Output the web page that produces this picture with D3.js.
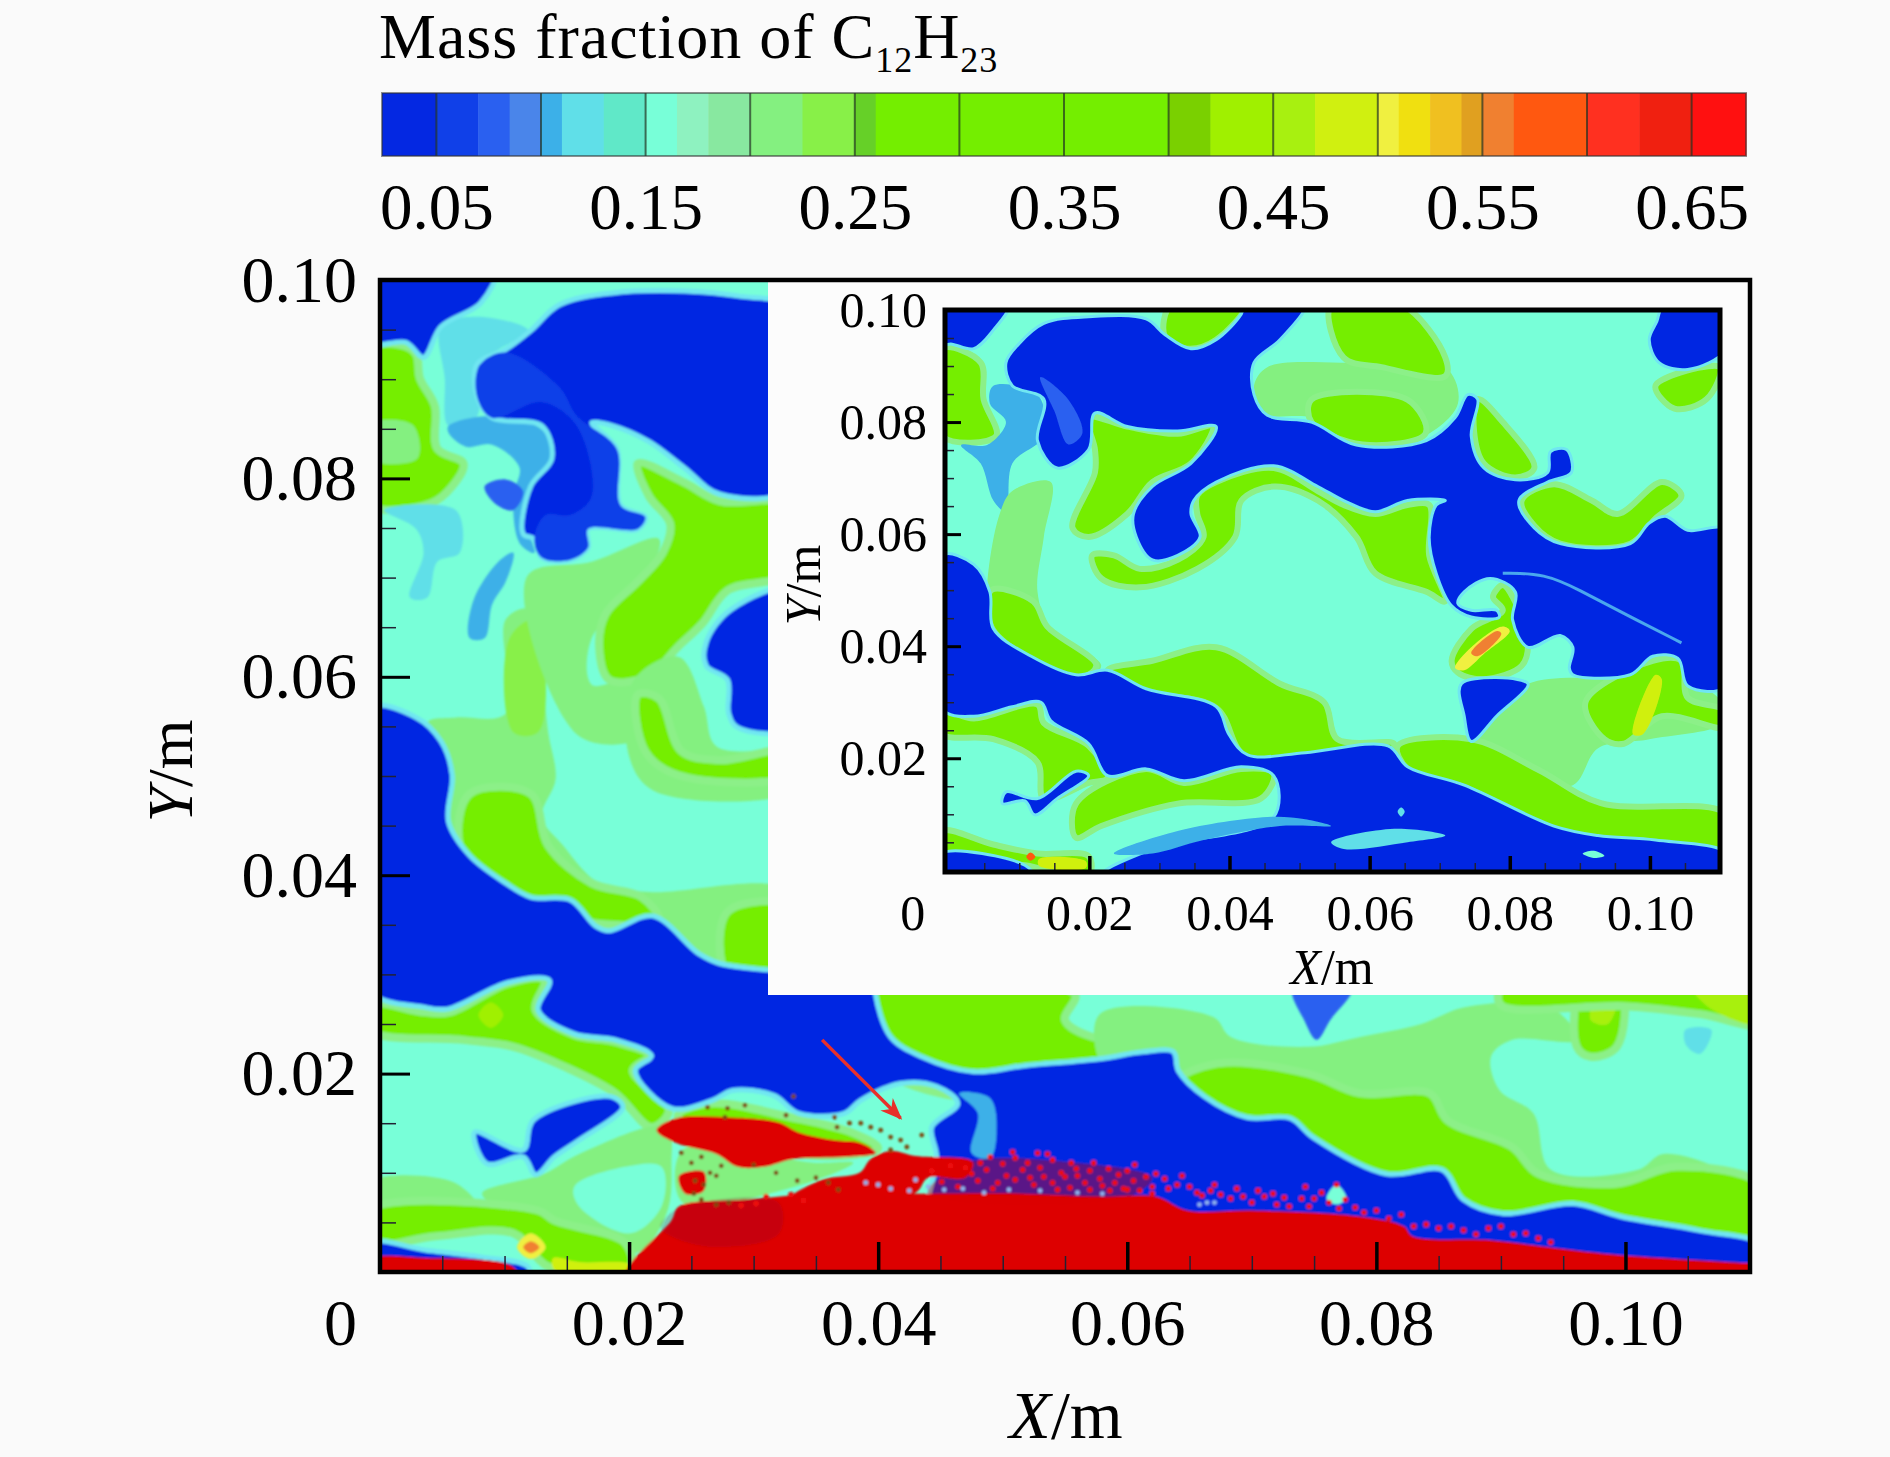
<!DOCTYPE html>
<html>
<head>
<meta charset="utf-8">
<script src="https://cdn.jsdelivr.net/npm/d3@7"></script>
<style>
html, body { margin: 0; padding: 0; background: #fafafa; }
svg { display: block; }
text { font-family: "Liberation Serif", serif; fill: #000; }
</style>
</head>
<body>
<div id="chart"></div>
<script>
// legend bands (mass fraction)
var barStops = [0.024,0.05,0.07,0.085,0.1,0.11,0.13,0.15,0.165,0.18,0.2,0.225,0.25,0.26,0.4,0.42,0.45,0.47,0.5,0.51,0.525,0.54,0.55,0.565,0.6,0.625,0.65,0.676];
var barColors = ["#0428e2","#1040e8","#2a60f0","#4a85ea","#3cb0e8","#60dfe8","#60e8c8","#78ffd8","#8ef2c0","#88e8a0","#84f080","#88f048","#66d028","#74ee00","#7ad000","#a0f000","#a8f010","#d0f010","#f0f040","#f0e010","#f0c020","#e0a020","#f08030","#ff5810","#ff3020","#f02010","#ff1010"];
var fieldRed = "#dd0000";
var barTicks = [0.05,0.1,0.15,0.2,0.25,0.3,0.35,0.4,0.45,0.5,0.55,0.6,0.65];
var barLabels = [0.05,0.15,0.25,0.35,0.45,0.55,0.65];

// axis ticks, X and Y in mm
var xMajor = [0,20,40,60,80,100];
var yMajor = [20,40,60,80,100];
var minorTicks = [5,10,15,25,30,35,45,50,55,65,70,75,85,90,95,105];

// main plot contours, [X mm, Y mm]
var mTopBlue = [[7.8,91.5],[10.1,93],[12.1,94.9],[14.4,97.5],[18.7,98.7],[24.4,98.9],[28.7,98.4],[33,97],[33,79.1],[27.3,78.4],[24.4,81.1],[21.6,83.7],[18.7,85.3],[17,85.6],[19,83],[19.3,77.3],[21.3,76.1],[20.7,74.9],[16.7,74.9],[16.7,73],[15.3,71.8],[13,72],[12.4,73.9],[11.5,74.4],[12.1,79.2],[13.8,82],[13,85.3],[9,86.1],[7.8,88.2]];
var mCornerBlue = [[-1,101],[9.2,101],[8.1,97.7],[4.9,95.3],[3.5,92.2],[2.1,93.7],[-1,93.7]];
var mTopMid = [[8,91.4],[10.1,92.7],[14.4,89.2],[15.8,86.3],[19,83],[19.3,77.3],[21.3,76.1],[20.7,74.9],[16.7,74.9],[16.7,73],[15.3,71.8],[13,72],[12.4,73.9],[13.3,76.3],[15.3,76.3],[17,78.2],[15.8,85.3],[13,87.7],[9,86.1],[7.8,88.2]];
var mPatch1 = [[5.5,85.3],[9,86.3],[13,84.9],[14.1,82],[12.4,79.2],[11.8,75.4],[12.4,72.5],[11.2,73.5],[10.7,78.2],[11.2,81.1],[9,83.4],[6.9,83.2],[5.5,84.6]];
var mPatch2 = [[8.4,79.2],[10.1,79.9],[11.5,78.7],[10.7,76.8],[9.2,77.5]];
var mPatch3 = [[0.3,76.8],[6.1,76.8],[6.4,72.5],[4.6,71.6],[3.8,68],[2.4,68],[3.5,72.5],[2.9,74.9]];
var mPatch4 = [[7.5,67.7],[9.5,71.6],[10.7,72.5],[10.1,69.6],[9,67.3],[8.4,63.9],[7.2,63.9]];
var mCyan = [[4.9,95.3],[7.8,96.3],[11.9,94.9],[9.5,93],[7.8,91.5],[7.8,86.3],[5.5,85.3],[5.2,90.1]];
var mLeftGreen = [[-1,93],[1.8,93.4],[2.9,92.5],[3.2,90.1],[4.4,87.3],[4.6,83],[6.7,81.5],[5.8,79.2],[4.1,77.5],[-1,77.5]];
var mLeftPale = [[-1,85.4],[2.6,85.4],[3,82],[-1,82]];
var mCentreGreen = [[20.7,81.5],[24.4,79.6],[27.3,77.7],[33,77.3],[33,70.6],[27.9,68.7],[25.9,65.4],[23.9,63],[21.6,60.1],[18.4,59.7],[17.6,63],[18.1,66.3],[20.7,69.6],[22.7,72.5],[23.3,75.4],[21.6,78.2]];
var mCentrePale = [[11.8,70.1],[17,71.6],[22.4,73.9],[21,69.2],[17,63.9],[17,59.2],[20.4,59.7],[21,54],[16,54]];
var mBandPale = [[10.1,65.8],[12.1,66.8],[13,60.1],[13.5,54.4],[14.1,49.7],[13,45.9],[14.7,43],[17.6,39.2],[21.6,38.3],[33,38.3],[33,29],[5.5,38],[4.9,51.6],[3.8,55.4],[6.1,55.9],[10.1,56.3]];
var mBandGreen = [[7.2,48.2],[12.1,48.2],[13.5,43],[17,39.2],[21,37.8],[22.4,35.4],[15.8,35.4],[9,38.2],[6.4,43]];
var mBandGreen2 = [[27.9,36.3],[33,36.8],[33,30],[27.9,30]];
var mMidGreen = [[10.4,63.9],[12.4,65.8],[13.3,60.1],[12.7,54.4],[10.7,54.4]];
var mArcPale = [[20.4,59.7],[24,62],[26,57],[27,53],[33,52],[33,48.5],[22,48.5],[20,52]];
var mArcGreen = [[20.7,58.2],[22.4,57.8],[24.2,52.5],[27.3,51.6],[33,52.5],[33,50.1],[23.9,50.1],[21.3,52.5]];
var mNotchBlue = [[33,68.7],[28.2,66.8],[26.2,63.5],[26.2,61.1],[27.9,59.7],[28,56.3],[28.7,54.9],[33,54.9]];
var mBandBlue = [[-1,56.8],[2.9,55.9],[4.9,53.5],[5.8,50.1],[5.5,45.4],[7.2,42],[10.1,39.2],[12.1,37.8],[15.3,37.5],[17.3,34.9],[18.4,34.4],[21.9,35.9],[25.6,32.1],[27.3,31.1],[33,30.2],[39.8,29],[39.8,27.9],[41,23.7],[43.5,21.7],[47.6,20.2],[51.7,20.8],[57.8,21.5],[61.3,22.2],[63.7,22.2],[64.1,20.3],[66.2,17.7],[69.6,15.6],[73.1,15.5],[74.9,13.6],[80.8,9.9],[85.3,10.3],[87,7.3],[90.2,5.9],[95.8,6.9],[99.6,5.6],[105.9,4.2],[111,2.6],[111,-1],[44,-1],[44.7,11.6],[44.3,14.6],[46.4,17],[44.7,18.7],[41.8,19],[38.6,17.3],[37.3,16],[33.6,16],[31.6,17.8],[28.3,18.3],[26.7,17.3],[23.4,16.5],[20.5,20.3],[21.8,21.8],[18.9,23.4],[15.6,24],[12.7,26.4],[13.6,29.4],[10.3,29.2],[5.4,26.5],[3.5,26.7],[-1,28.6]];
var mGapHalo = [[46.5,18],[48,16],[47.5,12],[49,11.5],[49.5,14],[49,17.5]];
var mLowGreen = [[-1,27],[3.5,26.2],[5.6,26.2],[10.3,29.1],[13.2,29.4],[12.5,26.4],[15.6,23.9],[18.9,23.2],[21.6,21.8],[20.3,20.3],[23.2,16.3],[21.8,14.6],[18.9,18],[14.8,20.7],[10.7,22.7],[6.6,23.4],[-1,24.4]];
var mLowPale = [[8.2,7.9],[13.2,9.9],[16,11.9],[23,14.6],[23.4,10.9],[23,5.9],[20.5,1.9],[13.2,5.9],[10.7,5.9]];
var mLowAqua = [[15.6,8.6],[19.7,10.6],[22.6,10.6],[22.6,6.6],[20.1,3.9],[16,6.6]];
var mFootPale = [[-1,9],[6,9],[8,6],[-1,6]];
var mFootGreen = [[-1,6.2],[12.7,6.2],[14,5.2],[19.7,2.9],[20.1,0.5],[13.6,0.5],[10.7,3.9],[4.5,3.6],[-1,2.9]];
var mSBlue = [[7.6,14.1],[11.5,12.3],[12.3,15.3],[18.5,17.7],[19.5,16.6],[16,13.3],[14,11.6],[12.5,9.8],[11.5,11.6],[8.6,10.9]];
var mFootBlue = [[-1,2.9],[3.7,2.2],[8.2,1.5],[11.9,0.5],[11.9,-1],[-1,-1]];
var mFootRed = [[-1,1.2],[3.7,1.4],[10.7,0.5],[11,-1],[-1,-1]];
var mHotYellow = [[11,2.5],[12.1,3.9],[13.3,2.5],[12.1,1.3]];
var mHotOrange = [[11.5,2.5],[12.1,3.1],[12.8,2.5],[12.1,1.9]];
var mHotStrip = [[13.9,1.4],[16,1],[20,0.8],[20,0.2],[14,0.2]];
var mHotTop = [[7.9,25.9],[8.9,27.2],[9.9,25.9],[8.9,24.6]];
var mPlumeGreen = [[24,16],[26.7,17],[33,15.6],[38,14],[40,12.5],[38,11.8],[33,12],[24,15.4]];
var mPlumePale = [[24.3,12.3],[35,11],[38,11],[33,8.5],[24.3,7]];
var mGreenTop = [[39,28],[55.8,28],[55,25.4],[57.8,23.5],[64,23.5],[64,19],[45,18],[39,22]];
var mPaleRight = [[57.8,26],[66.9,25.7],[68.3,23.7],[74.5,22.7],[78.7,23.7],[83.6,25],[87.1,26.7],[94,26.7],[96.1,23.4],[90.9,23.4],[89.2,21.7],[89.9,18.3],[92.6,16],[94,10.3],[101,10.3],[103.1,11.9],[109.7,8.6],[111,3],[85,3],[60,18],[57.8,21]];
var mGreenRight = [[67.2,21],[74.5,20],[78.7,18],[84.3,18],[85.7,15.3],[90.9,12.6],[93,9.9],[99.3,8.9],[104.1,10.6],[111,8.6],[111,2],[90,3],[70,12],[64,19]];
var mColumnGreen = [[96.5,28.5],[99.6,28.5],[99.3,22.7],[97.2,21.7],[96.1,22.7]];
var mColumnYellow = [[97.9,28.5],[99.4,28.5],[98.6,25],[97.2,25.4]];
var mEdgeGreen = [[90,28.5],[111,28.5],[111,25],[106,26],[100,26.8],[90,26.9]];
var mEdgeYellow = [[105.5,28.5],[111,28.5],[111,25],[107,26.4]];
var mCyanRight = [[104.8,24.4],[106.9,24.4],[106,22],[104.9,22.8]];
var mBlueWedge = [[73.3,28.5],[78,28.5],[76.3,25.4],[75.2,23.4],[74.2,25.4]];
var mAquaSpot = [[63.5,9.5],[64.5,11],[66,10],[65,9]];
var mAquaSpot2 = [[76,7.4],[76.8,8.8],[77.6,7.4],[76.8,6.8]];

var mRedBody = [[19.7,-1],[23.4,5.2],[24,6.6],[29.5,7.3],[35.3,7.9],[43.5,7.9],[51.7,7.9],[57.8,7.6],[62.3,7.6],[64.8,6.2],[70,6.2],[78.7,5.6],[82.2,4.6],[82.9,3.6],[89.2,3.2],[95.8,2.2],[99.6,1.7],[109.7,0.9],[111,0.8],[111,-1]];
var mRedPlume = [[22.2,14.3],[23.8,15.5],[27.9,15.6],[32,15.1],[33.6,14.1],[36.5,13.3],[38.6,13],[39.8,12],[37.3,11.6],[33.2,11.4],[30.8,10.6],[28.7,10.6],[27,11.9],[23.8,13]];
var mRedMid = [[33,7.5],[35.5,9.3],[38.5,10],[39.4,11.4],[41,12.2],[43,11.7],[47.6,11.1],[47,9.5],[44,9.5],[43,8],[38,7.5]];
var mRedSmall = [[24,9.7],[26,10.1],[26,8.2],[24.5,7.9]];
var mRedMix = [[44,8],[60,7.6],[62,9.5],[56,11],[47,11]];
var mRedDark = [[24,6.4],[32,7],[32,3.8],[26,2.6],[22.5,4.5]];

var dropletsDark = [[26.3,16.6],[27.9,16.5],[29.3,16.8],[27.7,15.6],[32.6,15.8],[33.2,17.7],[36.5,15.6],[36.7,14.6],[37.7,15],[38.6,15],[39.4,14.6],[40.2,14.3],[41,13.6],[41.8,13.3],[43.5,13.8],[42.3,12.6],[41,12.3],[24.2,12],[25,11],[25.8,11.6],[26.5,10],[27,9.7],[27.4,10.7],[26,8.8],[25.3,9.2],[25.2,7.9],[25.8,7.3],[27,6.8],[28,7],[33.5,9.2],[35,9.5],[36,9],[36.8,8.3],[31.8,10],[30,10.8]];
var dropletsRed = [[29,6.7],[30.2,6.9],[31,7.6],[33,7.8],[34,7.2],[47,10.5],[48.2,11],[49,11.6],[50,10.9],[51,11.5],[52,11],[52.8,12],[53,10.5],[54,11.3],[54.7,10],[55.5,11],[56,9.7],[57,10.2],[57.8,9.4],[58.5,10.4],[59,9],[60,10.2],[60.5,9.2],[61.5,9.6],[62,8.6],[63,9.4],[64,8.8],[65,8.6],[65.6,8],[66.7,8.2],[67.5,7.8],[68.3,7.4],[69.3,7.6],[70,7],[71,7.6],[72,6.8],[71.7,7.9],[73,6.6],[74,7.4],[74.6,6.6],[75.6,8],[76.2,7],[76.8,8.8],[77.5,7.3],[78.3,6.5],[79,6],[48,9.2],[49.6,9],[51,9.3],[52.5,8.8],[54,9],[55.4,8.5],[57,8.3],[58.6,8.2],[60,8.3],[62,7.9],[83,4.6],[85,4.4],[87,4.2],[89,4.4],[91,3.8],[93,3.4],[44.3,10.2],[45.1,9.1],[45.8,10.7],[46.4,8.6],[47.5,9.9],[48.7,10.3],[49.2,8.4],[50.3,9.7],[50.8,12.1],[51.6,10.3],[52.2,9.5],[53.3,9.6],[53.6,11.9],[54.4,8.3],[55,9.6],[55.9,10.4],[56.6,9],[57.3,11],[58,8.7],[59.3,9.8],[59.7,8.4],[60.6,10.8],[61,8.2],[62.3,9.9],[63.3,8.4],[64.4,9.7],[66,7.7],[67,8.8],[68.8,8.4],[70.5,8.2],[72.6,7.5],[74.3,8.6],[75,7.4],[77,6.4],[80,6.2],[81,5.4],[82,5.8],[84,4.8],[86,4.6],[88,3.8],[90,4.6],[92,3.9],[94,3]];
var dropletsPale = [[39,9],[40,8.8],[41,8.4],[42.5,8.2],[44,8.6],[45.3,8.3],[46.8,8.4],[43,9.3],[48.5,8],[50.5,8.3],[53,8.2],[56,8],[58,7.9],[65.8,6.8],[66.4,7],[67,7]];
var arrowFrom = [35.5,23.4];
var arrowTo = [41.8,15.5];

var mainLayers = [
  [mBandPale,0.2],[mBandGreen,0.3],[mBandGreen2,0.3],[mMidGreen,0.24],[mCentrePale,0.2],[mCentreGreen,0.3],[mArcPale,0.2],[mArcGreen,0.3],
  [mCyan,0.12],[mLeftGreen,0.3],[mLeftPale,0.2],[mPatch3,0.12],[mPatch1,0.105],[mPatch2,0.08],[mPatch4,0.105],
  [mGreenTop,0.3],[mPaleRight,0.22],[mGreenRight,0.3],[mColumnGreen,0.3],[mColumnYellow,0.46],[mEdgeGreen,0.3],[mEdgeYellow,0.46],[mCyanRight,0.12],
  [mLowGreen,0.3],[mHotTop,0.44],[mLowPale,0.2],[mLowAqua,0.15],[mFootPale,0.2],[mFootGreen,0.3],[mHotStrip,0.47],[mHotYellow,0.5],[mHotOrange,0.56],
  [mPlumeGreen,0.3],[mPlumePale,0.22],[mAquaSpot,0.15],
  [mTopBlue,0.03],[mTopMid,0.06],[mCornerBlue,0.03],[mNotchBlue,0.03],[mBandBlue,0.03],[mGapHalo,0.105],[mSBlue,0.03],[mFootBlue,0.03],[mBlueWedge,0.075],[mAquaSpot2,0.15]
];
var mainReds = [mRedBody,mRedPlume,mRedMid,mRedSmall,mFootRed];

// inset contours, [X mm, Y mm]
var iBlueNet = [[9.9,93.9],[13.5,97.6],[19.9,98.8],[28.1,98.4],[30.8,95.6],[34.5,93.1],[38.1,94.7],[41.7,99.3],[42.2,101],[50.8,101],[47.2,94.7],[43.5,90.6],[43.5,84.9],[45.4,81.2],[51.7,80],[58.1,75.9],[68.1,76.7],[72.2,80.8],[74,84.9],[75.4,84.1],[74.5,77.5],[76.3,71.8],[80.8,69.7],[85.4,71],[85.8,74.7],[88.1,75.1],[88.8,71],[85.4,69.3],[81.3,66],[83.5,61.1],[87.2,58.3],[97.2,58.3],[99.9,62],[102.2,63.2],[105.4,60.7],[111,60.7],[111,32.9],[105.4,32.9],[104,37.8],[100.4,38.2],[97.2,34.9],[89,34.9],[88.5,36.1],[89,39.8],[87.2,41.9],[82.6,39.8],[80.4,44.7],[80.8,49.7],[77.2,52.1],[73.5,49.7],[72.6,47.6],[74.5,46.4],[78.1,46.4],[78.5,45.2],[74.5,45.2],[71.7,47.2],[69.5,53],[68.5,59.5],[69.5,65.2],[70.8,66],[65.4,66],[60.8,64],[56.3,66],[52.6,68.5],[46.3,72.2],[38.1,69.3],[34.9,66],[34.5,63.6],[35.8,59.5],[32.6,56.2],[29,55.4],[26.7,59.5],[26.3,63.6],[29,68.5],[34.5,72.6],[38.1,79.2],[32.6,78.4],[25.4,79.2],[20.8,81.6],[19.9,75.1],[15.4,71.8],[12.6,76.7],[13.5,84.1],[9,86.5],[8.1,90.6]];
var iBlueBand = [[-1,56.2],[3.5,54.6],[5.8,49.7],[6.3,43.1],[11.7,38.2],[18.1,34.9],[22.6,35.7],[28.1,32.4],[38.1,29.2],[39.9,24.3],[42.6,20.6],[50.8,21],[62.6,22.2],[65.4,18.5],[73.5,15.2],[86.3,7.9],[92.6,6.2],[100.8,5.4],[111,3],[111,-1],[21.7,-1],[29,3.8],[46.3,9.5],[46.3,16.9],[41.7,18.5],[33.5,16],[28.1,18.1],[22.6,16.9],[19.9,22.6],[14.5,26.7],[13.1,30],[9,29.2],[3.5,27.5],[-1,28.8]];
var iBlueCorner = [[-1,101],[8.5,101],[6.3,96.4],[3.5,93.1],[0.4,93.9],[-1,94]];
var iBlueRight = [[102,101],[111,101],[111,93.1],[105.4,89.4],[101.3,90.6],[99.9,94.7],[101,98]];
var iBlueWedge = [[73.1,33.3],[82.6,33.3],[78.1,27.5],[74.5,23],[73.5,27.5]];
var iBlueSmall = [[8.1,14],[12.6,12.8],[18.1,17.7],[19.9,16.9],[15.4,12.8],[12.2,9.9],[10.8,12.4],[7.6,11.9]];
var iBlueFoot = [[-1,3],[10.8,0.9],[12,-1],[-1,-1]];
var iBlueStreak = [[13,88],[17,84],[19,78],[17,76],[15,82]];
var iStreak1 = [[23.5,3],[32.6,7],[45.4,9.5],[50.8,9.1],[54.5,7.9],[47.2,7.9],[36.3,5.4],[29,3]];
var iStreak2 = [[54.5,5],[63.5,7.4],[70.8,6.2],[65.4,5],[56.3,3.8]];
var iSpot1 = [[90.4,3],[92,3.5],[93.5,2.6],[92,2.2]];
var iSpot2 = [[64,10.5],[64.5,11.2],[65,10.5],[64.5,9.6]];
var iGreen1 = [[31.7,101],[42.2,101],[38.1,94.7],[34,93.1],[30.8,95.2]];
var iGreen2 = [[54.5,101],[64.5,101],[70.8,91.5],[70.8,88.2],[61.7,89.8],[56.3,91.5]];
var iPale3 = [[45.4,89.8],[56.3,90.6],[70.8,89.8],[72.6,83.3],[67.2,77.1],[59,76.3],[51.7,80.8],[44.5,81.6],[43.5,86.5]];
var iGreen3 = [[51.7,84],[65.4,84],[68,78],[59,76],[51.7,80]];
var iGreen4 = [[75.4,84.1],[79,80],[83.5,71.8],[80.8,70.1],[76.3,72.6],[74.9,78.4]];
var iGreen5 = [[81.7,66],[86.3,68.9],[91.7,66],[95.4,63.6],[101.7,69.3],[104.5,66.9],[100.8,62.8],[97.2,58.3],[87.2,58.3],[83.5,61.5]];
var iGreen6 = [[100.8,86.5],[110,89.8],[108.1,84.1],[103.5,82.4]];
var iGreen7 = [[19.9,80.8],[25.4,79.2],[32.6,77.9],[37.6,79.2],[34.5,72.6],[29,69.3],[25.4,63.6],[19.9,59.5],[17.6,61.1],[20.8,71],[20.8,75.1]];
var iSwirl = [[35.4,66.9],[38.1,69.3],[46.3,71.8],[52.6,67.7],[56.3,65.2],[60.8,63.6],[65.4,65.2],[68.5,65.2],[68.5,56.2],[70.8,48],[68.1,49.7],[60.8,53],[58.1,59.5],[52.6,66],[46.3,68.5],[41.7,66],[40.8,59.5],[35.4,53.8],[27.2,50.5],[21.7,52.1],[20.4,56.2],[23.5,56.2],[27.2,53.8],[32.6,55.4],[36.3,59.5],[35.4,63.6]];
var iLeftBand = [[7.2,63.6],[9,67.7],[14.5,69.3],[13.5,59.5],[12.6,49.7],[14.5,43.1],[21.7,36.5],[19,34.1],[11.7,37.4],[5.8,43.9],[5.4,50.5]];
var iLeftBright = [[6,50],[12,48],[14,43.5],[21,36.6],[19,34.5],[11.7,37.6],[6,43.5]];
var iGreen10 = [[22.6,35.7],[29,37.4],[38.1,39.8],[47.2,33.3],[53.5,30],[55.4,23.4],[63.5,22.6],[62.6,21],[42.6,20],[38.1,29],[28.1,32]];
var iGreen11 = [[64,22.2],[74.5,23.4],[84,18],[93,12],[111,10],[111,2],[100.8,5],[92.6,5.8],[86.3,7.4],[73.5,14.8],[65.4,18.1]];
var iPale12 = [[75.4,23.4],[78.1,28.4],[82.6,33.3],[95.4,34.1],[109,31.6],[111,26.7],[99.9,23.4],[92.6,21.8],[89,15.2],[80.8,16]];
var iGreen13 = [[90.8,30],[100.4,37.4],[104.5,37.4],[105.4,30.8],[111,28.4],[111,25.5],[101.7,27.5],[96.3,22.6],[93.5,23.4]];
var iStreak3 = [[97.6,24.3],[100.8,34.9],[101.7,34.1],[99,24.3]];
var iHand = [[71.7,37.4],[74.5,43.1],[79,46.4],[77.6,48.8],[79,50.9],[80.4,48.8],[82.6,40.6],[81.7,36.5],[76.3,34.1],[72.6,35.3]];
var iHandYellow = [[72.2,36.1],[74.5,39.8],[79,43.5],[80,42.7],[76.3,38.6],[73.5,35.7]];
var iHandOrange = [[74.5,38.8],[78.2,42.7],[78.8,42.2],[75.4,38.2]];
var iGreen15 = [[-1,28.4],[3.5,27.1],[12.6,29.6],[13.5,26.3],[19.9,22.2],[22.6,16.5],[19.9,15.6],[13.5,12.8],[12.6,19.3],[6.3,23.4],[-1,24.3]];
var iGreen16 = [[18.1,11.9],[28.1,18.1],[33.5,15.6],[41.7,18.1],[46.3,17.3],[44.5,12.8],[32.6,11.9],[21.7,7.9],[18.1,5.8]];
var iGreen17 = [[-1,7],[6.3,4.6],[12.6,3],[19.9,2.5],[19.9,-1],[10.8,0.9],[-1,3]];
var iHotStrip = [[12.8,2],[19.5,1.6],[19.5,0.4],[12.8,0.8]];
var iHotDot = [[11,2.4],[11.6,3.2],[12.3,2.4],[11.6,1.7]];
var iGreenLeft = [[-1,93.1],[4.5,90.6],[4.9,84.1],[6.7,77.5],[-1,77.5]];
var iLightBlue = [[6.3,86.5],[12.6,84.9],[13.5,77.5],[9,72.6],[8.1,64],[6.3,66],[4.5,72.6],[1.7,75.9],[5.4,75.9],[8.1,80],[5.8,83.3]];
var iThread = [[79,53],[85,53],[90,50],[96,46],[104.5,40.6]];

var insetLayers = [
  [iGreenLeft,0.3],[iLightBlue,0.105],[iLeftBand,0.22],[iLeftBright,0.3],[iGreen1,0.3],[iPale3,0.2],[iGreen2,0.3],[iGreen3,0.3],[iGreen4,0.3],[iGreen5,0.3],[iGreen6,0.3],[iGreen7,0.3],[iSwirl,0.3],
  [iGreen10,0.3],[iPale12,0.2],[iGreen11,0.3],[iGreen13,0.3],[iStreak3,0.47],[iHand,0.3],[iHandYellow,0.5],[iHandOrange,0.56],
  [iGreen15,0.3],[iGreen16,0.3],[iGreen17,0.3],[iHotStrip,0.48],[iHotDot,0.57],
  [iBlueNet,0.03],[iBlueBand,0.03],[iBlueCorner,0.03],[iBlueRight,0.03],[iBlueWedge,0.03],[iBlueSmall,0.03],[iBlueFoot,0.03],[iBlueStreak,0.075],
  [iStreak1,0.105],[iStreak2,0.12],[iSpot1,0.15],[iSpot2,0.12]
];

var svg = d3.select("#chart").append("svg").attr("width", 1890).attr("height", 1457);
var defs = svg.append("defs");

var barColor = d3.scaleThreshold().domain(barStops.slice(1, -1)).range(barColors);

var contour = function(x, y) {
    return d3.line().x(d => x(d[0])).y(d => y(d[1])).curve(d3.curveCatmullRomClosed.alpha(0.5));
};

function addFilter(id, dev){
    defs.append("filter").attr("id", id)
        .attr("x", "-2%").attr("y", "-2%").attr("width", "104%").attr("height", "104%")
        .append("feGaussianBlur").attr("stdDeviation", dev);
}
addFilter("soft", 1.1);
addFilter("softInset", 0.7);

function drawField(id, x, y, layers, halo, filter){
    defs.append("clipPath").attr("id", id)
        .append("rect")
        .attr("x", x.range()[0]).attr("y", y.range()[1])
        .attr("width", x.range()[1] - x.range()[0])
        .attr("height", y.range()[0] - y.range()[1]);

    var outer = svg.append("g").attr("clip-path", "url(#" + id + ")");
    outer.append("rect")
        .attr("x", x.range()[0]).attr("y", y.range()[1])
        .attr("width", x.range()[1] - x.range()[0])
        .attr("height", y.range()[0] - y.range()[1])
        .attr("fill", barColor(0.155));

    var g = outer.append("g").attr("filter", "url(#" + filter + ")");
    var line = contour(x, y);

    g.selectAll("path.level")
        .data(layers)
        .enter().append("path")
        .attr("class", "level")
        .attr("d", d => line(d[0]))
        .attr("fill", d => barColor(d[1]))
        .attr("stroke", d => d[1] < 0.05 ? "#6fe6f2" : (d[1] === 0.3 ? "#8cf088" : "none"))
        .attr("stroke-width", d => d[1] < 0.05 ? halo : halo + 3);

    return { outer: outer, g: g, line: line };
}

function drawAxes(x, y, size, tickMajor, tickMinor, padX, padY, zeroShift){
    var fmt = d => d === 0 ? "0" : (d / 1000).toFixed(2);

    var gx = svg.append("g").attr("transform", "translate(0," + y.range()[0] + ")")
        .call(d3.axisBottom(x).tickValues(xMajor).tickFormat(fmt).tickSizeOuter(0).tickSizeInner(-tickMajor).tickPadding(padX));
    gx.select(".domain").remove();
    gx.selectAll("line").attr("stroke-width", 3.5);
    gx.selectAll("text").attr("font-size", size);
    gx.selectAll(".tick").filter(d => d === 0).select("line").remove();
    gx.selectAll(".tick").filter(d => d === 0).select("text").attr("x", -zeroShift);

    var gy = svg.append("g").attr("transform", "translate(" + x.range()[0] + ",0)")
        .call(d3.axisLeft(y).tickValues(yMajor).tickFormat(fmt).tickSizeOuter(0).tickSizeInner(-tickMajor).tickPadding(padY));
    gy.select(".domain").remove();
    gy.selectAll("line").attr("stroke-width", 3);
    gy.selectAll("text").attr("font-size", size);
    gy.selectAll(".tick").filter(d => d === 100).select("line").remove();

    var mx = svg.append("g").attr("transform", "translate(0," + y.range()[0] + ")")
        .call(d3.axisBottom(x).tickValues(minorTicks).tickFormat("").tickSizeOuter(0).tickSizeInner(-tickMinor));
    mx.select(".domain").remove();
    mx.selectAll("line").attr("stroke-width", 1.5).attr("stroke", "#223");

    var my = svg.append("g").attr("transform", "translate(" + x.range()[0] + ",0)")
        .call(d3.axisLeft(y).tickValues(minorTicks.filter(d => d < 100)).tickFormat("").tickSizeOuter(0).tickSizeInner(-tickMinor));
    my.select(".domain").remove();
    my.selectAll("line").attr("stroke-width", 1.5).attr("stroke", "#223");
}

function axisTitle(px, py, letter, size, rotate){
    var t = svg.append("text")
        .attr("text-anchor", "middle")
        .attr("font-size", size)
        .attr("transform", "translate(" + px + "," + py + ")" + (rotate ? " rotate(-90)" : ""));
    t.append("tspan").attr("font-style", "italic").text(letter);
    t.append("tspan").text("/m");
}

/*--------------- MAIN PLOT ---------------*/
var x = d3.scaleLinear().domain([0, 110]).range([380, 1750]);
var y = d3.scaleLinear().domain([0, 100]).range([1272, 280]);

var main = drawField("clipMain", x, y, mainLayers, 5, "soft");

main.g.selectAll("path.red")
    .data(mainReds)
    .enter().append("path")
    .attr("class", "red")
    .attr("d", d => main.line(d))
    .attr("fill", fieldRed);

main.g.append("path").attr("d", main.line(mRedMix)).attr("fill", fieldRed).attr("opacity", 0.4);
main.g.append("path").attr("d", main.line(mRedDark)).attr("fill", "#7a1030").attr("opacity", 0.22);

main.g.selectAll("circle.dark")
    .data(dropletsDark)
    .enter().append("circle")
    .attr("class", "dark")
    .attr("cx", d => x(d[0])).attr("cy", d => y(d[1])).attr("r", 2.4)
    .attr("fill", "#7d4a10");

main.g.selectAll("circle.drop")
    .data(dropletsRed)
    .enter().append("circle")
    .attr("class", "drop")
    .attr("cx", d => x(d[0])).attr("cy", d => y(d[1])).attr("r", 2.8)
    .attr("fill", "#ee1010");

main.g.selectAll("circle.hole")
    .data(dropletsPale)
    .enter().append("circle")
    .attr("class", "hole")
    .attr("cx", d => x(d[0])).attr("cy", d => y(d[1])).attr("r", 2.4)
    .attr("fill", "#8fb4ee");

// arrow
defs.append("marker").attr("id", "head")
    .attr("viewBox", "0 0 10 10").attr("refX", 9).attr("refY", 5)
    .attr("markerWidth", 30).attr("markerHeight", 22).attr("markerUnits", "userSpaceOnUse")
    .attr("orient", "auto")
    .append("path").attr("d", "M0,1L10,5L0,9L3,5Z").attr("fill", "#e8302a");

svg.append("line")
    .attr("x1", x(arrowFrom[0])).attr("y1", y(arrowFrom[1]))
    .attr("x2", x(arrowTo[0])).attr("y2", y(arrowTo[1]))
    .attr("stroke", "#e8302a").attr("stroke-width", 3.5)
    .attr("marker-end", "url(#head)");

// white panel behind the inset
svg.append("rect").attr("x", 768).attr("y", 282).attr("width", 982).attr("height", 713).attr("fill", "#fcfcfc");

drawAxes(x, y, 66, 30, 16, 26, 23, 40);

svg.append("rect")
    .attr("x", x.range()[0]).attr("y", y.range()[1])
    .attr("width", x.range()[1] - x.range()[0]).attr("height", y.range()[0] - y.range()[1])
    .attr("fill", "none").attr("stroke", "#000").attr("stroke-width", 4.5);

axisTitle(1066, 1438, "X", 68, false);
axisTitle(192, 771, "Y", 64, true);

/*--------------- INSET ---------------*/
var xi = d3.scaleLinear().domain([-0.6, 110]).range([945, 1720]);
var yi = d3.scaleLinear().domain([-0.3, 100]).range([872, 310]);

var inset = drawField("clipInset", xi, yi, insetLayers, 3, "softInset");
inset.g.append("path")
    .attr("d", d3.line().x(d => xi(d[0])).y(d => yi(d[1])).curve(d3.curveBasis)(iThread))
    .attr("fill", "none").attr("stroke", "#4aa8ee").attr("stroke-width", 3);

drawAxes(xi, yi, 50, 16, 9, 22, 18, 37);

svg.append("rect")
    .attr("x", xi.range()[0]).attr("y", yi.range()[1])
    .attr("width", xi.range()[1] - xi.range()[0]).attr("height", yi.range()[0] - yi.range()[1])
    .attr("fill", "none").attr("stroke", "#000").attr("stroke-width", 5);

axisTitle(1332, 984, "X", 50, false);
axisTitle(820, 585, "Y", 50, true);

/*--------------- LEGEND ---------------*/
var xb = d3.scaleLinear().domain([barStops[0], barStops[barStops.length - 1]]).range([382, 1746]);

svg.selectAll("rect.band")
    .data(barColors)
    .enter().append("rect")
    .attr("class", "band")
    .attr("x", (d, i) => xb(barStops[i]))
    .attr("width", (d, i) => xb(barStops[i + 1]) - xb(barStops[i]) + 0.5)
    .attr("y", 93).attr("height", 63)
    .attr("fill", d => d);

svg.selectAll("line.level")
    .data(barTicks)
    .enter().append("line")
    .attr("class", "level")
    .attr("x1", d => xb(d)).attr("x2", d => xb(d))
    .attr("y1", 93).attr("y2", 156)
    .attr("stroke", "#223322").attr("stroke-opacity", 0.7).attr("stroke-width", 2);

svg.append("rect").attr("x", 382).attr("y", 93).attr("width", 1364).attr("height", 63)
    .attr("fill", "none").attr("stroke", "#333").attr("stroke-opacity", 0.55).attr("stroke-width", 2);

var gb = svg.append("g").attr("transform", "translate(0,156)")
    .call(d3.axisBottom(xb).tickValues(barLabels).tickFormat(d3.format(".2f")).tickSize(0).tickPadding(27));
gb.select(".domain").remove();
gb.selectAll("text").attr("font-size", 65);

var title = svg.append("text").attr("x", 379).attr("y", 58).attr("font-size", 64).attr("letter-spacing", 1);
title.append("tspan").text("Mass fraction of C");
title.append("tspan").attr("font-size", 36).attr("dy", 14).text("12");
title.append("tspan").attr("dy", -14).text("H");
title.append("tspan").attr("font-size", 36).attr("dy", 14).text("23");
</script>
</body>
</html>
